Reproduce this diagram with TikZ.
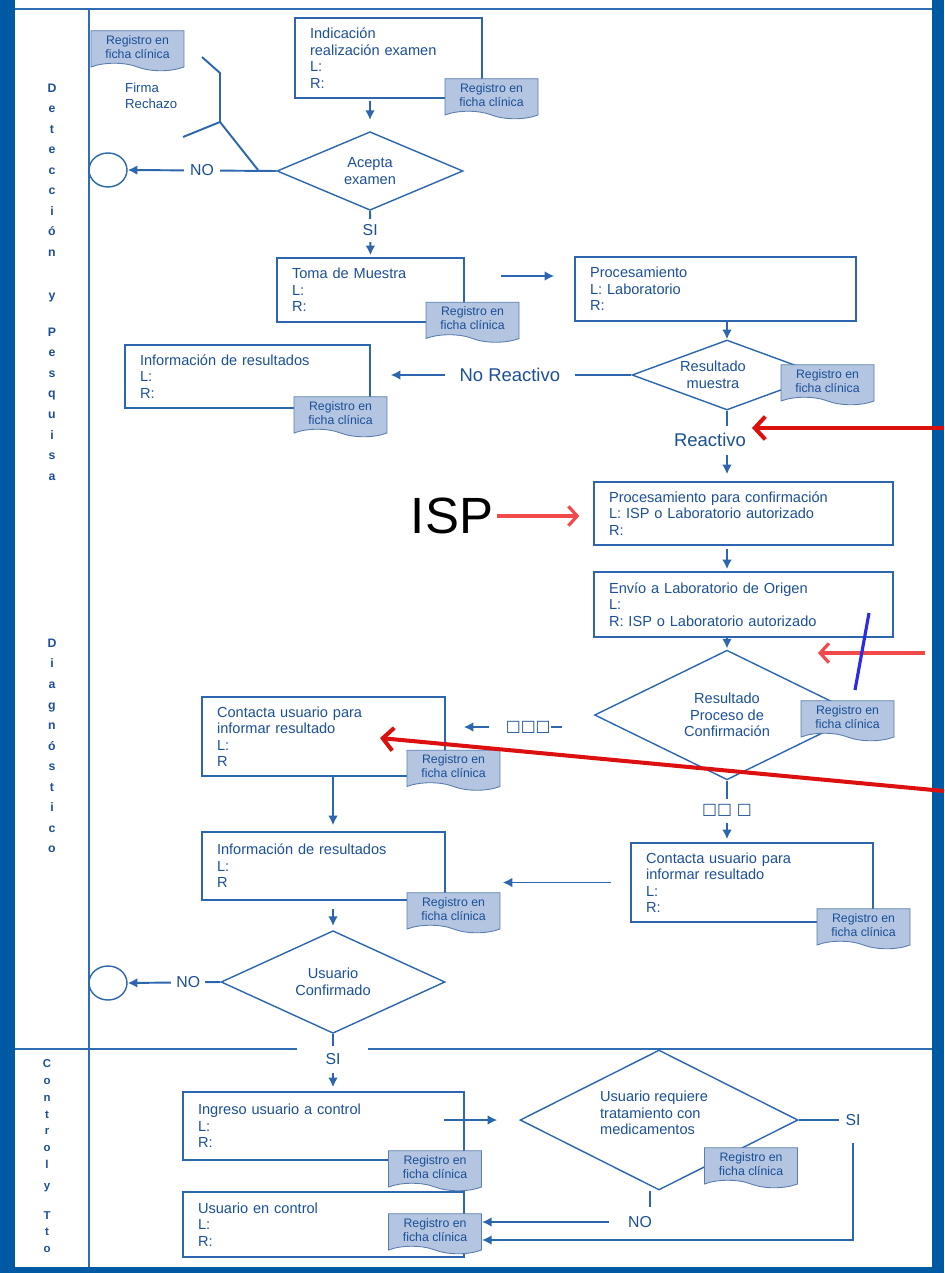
\documentclass[tikz,border=0pt]{standalone}
\usepackage{fontspec}
\setmainfont{Liberation Sans}
\newfontfamily\symfont{DejaVu Sans}
\usetikzlibrary{shapes.geometric,shapes.symbols,positioning,arrows.meta}

\definecolor{framebar}{HTML}{0059A3}
\definecolor{frameline}{HTML}{2F6DB5}
\definecolor{flowline}{HTML}{2B66AE}
\definecolor{flowtext}{HTML}{1B4F96}
\definecolor{docfill}{HTML}{B3C5E0}
\definecolor{docline}{HTML}{5A7DB0}
\definecolor{darkred}{HTML}{DD1010}
\definecolor{lightred}{HTML}{F24A4A}
\definecolor{markblue}{HTML}{2B2BE8}

\tikzset{
  box/.style={draw=flowline, line width=0.8pt, rectangle, align=left, inner xsep=0.3cm,
    text=flowtext, font=\fontsize{8.3}{9.4}\selectfont},
  decision/.style={diamond, draw=flowline, line width=0.8pt, inner sep=0pt, align=center,
    text=flowtext, font=\fontsize{8.3}{9.4}\selectfont},
  dtext/.style={text=flowtext, font=\fontsize{8.3}{9.4}\selectfont, align=center},
  record/.style={tape, tape bend top=none, tape bend bottom=out and in, tape bend height=0.15cm,
    draw=docline, fill=docfill, line width=0.5pt, minimum width=1.86cm, minimum height=0.8cm,
    inner sep=1pt, align=center, text=flowtext, font=\fontsize{7}{8}\selectfont},
  terminal/.style={ellipse, draw=flowline, line width=0.8pt, minimum width=0.76cm, minimum height=0.68cm},
  lbl/.style={text=flowtext, font=\fontsize{9}{10}\selectfont, fill=white},
  biglbl/.style={lbl, font=\fontsize{10.5}{12}\selectfont},
  boxlbl/.style={lbl, font=\symfont\fontsize{9}{10}\selectfont},
  lane/.style={text=flowtext, font=\bfseries\fontsize{7}{11.7}\selectfont, align=center},
  flow/.style={draw=flowline, line width=1.1pt},
  redarrow/.style={draw=darkred, line width=2.3pt, -{Straight Barb[length=6pt,width=13pt]}},
  pinkarrow/.style={draw=lightred, line width=1.8pt, -{Straight Barb[length=5pt,width=11pt]}},
  markline/.style={draw=markblue, line width=1.8pt}
}

\begin{document}
\begin{tikzpicture}[x=0.02cm, y=-0.02cm, >={Latex[length=5.5pt,width=5.5pt]}]
\useasboundingbox (0,0) rectangle (944,1273);

% frame and lanes
\fill[framebar] (0,0) rectangle (15,1273);
\fill[framebar] (932,0) rectangle (944,1273);
\fill[framebar] (0,1267) rectangle (944,1273);
\draw[frameline, line width=1.2pt] (15,9) -- (932,9);
\draw[frameline, line width=1.2pt] (89,9) -- (89,1267);
\draw[frameline, line width=1.2pt] (15,1049) -- (297,1049);
\draw[frameline, line width=1.2pt] (368,1049) -- (932,1049);

\node[lane] (det) at (52,170) {D\\e\\t\\e\\c\\c\\i\\ó\\n};
\node[lane] (yp) at (52,298) {y};
\node[lane] (pes) at (52,404) {P\\e\\s\\q\\u\\i\\s\\a};
\node[lane] (diag) at (52,746) {D\\i\\a\\g\\n\\ó\\s\\t\\i\\c\\o};
\node[lane, font=\bfseries\fontsize{6.5}{9.6}\selectfont] (ctrl) at (47,1114) {C\\o\\n\\t\\r\\o\\l};
\node[lane, font=\bfseries\fontsize{6.5}{9.6}\selectfont] (yt) at (47,1188) {y};
\node[lane, font=\bfseries\fontsize{6.5}{9.4}\selectfont] (tto) at (47,1232) {T\\t\\o};

% steps
\node[box, text width=3.14cm, minimum height=1.6cm] (ind) at (388.5,58) {Indicación\\realización examen\\L:\\R:};
\node[decision, minimum width=3.72cm, minimum height=1.56cm] (acepta) at (370,171) {Acepta\\examen};
\node[terminal] (fin1) at (108,170) {};
\node[dtext, anchor=west, align=left, font=\fontsize{7.5}{9}\selectfont] (firma) at (119,96) {Firma\\Rechazo};
\node[box, text width=3.14cm, minimum height=1.28cm] (toma) at (370.5,290) {Toma de Muestra\\L:\\R:};
\node[box, text width=5.02cm, minimum height=1.28cm] (proc) at (715.5,289) {Procesamiento\\L: Laboratorio\\R:};
\node[decision, minimum width=3.8cm, minimum height=1.4cm] (resmuestra) at (727,375) {};
\node[dtext] (resmuestratxt) at (713,375) {Resultado\\muestra};
\node[box, text width=4.3cm, minimum height=1.26cm] (info1) at (247.5,376.5) {Información de resultados\\L:\\R:};
\node[box, text width=5.38cm, minimum height=1.26cm] (conf) at (743.5,513.5) {Procesamiento para confirmación\\L: ISP o Laboratorio autorizado\\R:};
\node[box, text width=5.38cm, minimum height=1.3cm] (envio) at (743.5,604.5) {Envío a Laboratorio de Origen\\L:\\R: ISP o Laboratorio autorizado};
\node[decision, minimum width=5.3cm, minimum height=2.5cm] (resconf) at (727,715) {Resultado\\Proceso de\\Confirmación};
\node[box, text width=4.26cm, minimum height=1.58cm] (contacta1) at (323.5,736.5) {Contacta usuario para\\informar resultado\\L:\\R};
\node[box, text width=4.26cm, minimum height=1.36cm] (info2) at (323.5,866) {Información de resultados\\L:\\R};
\node[box, text width=4.24cm, minimum height=1.58cm] (contacta2) at (752,882.5) {Contacta usuario para\\informar resultado\\L:\\R:};
\node[decision, minimum width=4.48cm, minimum height=1.98cm] (usuconf) at (333,982) {Usuario\\Confirmado};
\node[terminal] (fin2) at (108,983) {};
\node[box, text width=5.02cm, minimum height=1.36cm] (ingreso) at (323.5,1126) {Ingreso usuario a control\\L:\\R:};
\node[decision, minimum width=5.56cm, minimum height=2.8cm] (reqtrat) at (659,1120) {};
\node[dtext, align=left] (reqtrattxt) at (654,1113) {Usuario requiere\\tratamiento con\\medicamentos};
\node[box, text width=5.02cm, minimum height=1.3cm] (control) at (323.5,1224.5) {Usuario en control\\L:\\R:};

% records
\node[record] (reg0) at (137.5,47) {Registro en\\ficha clínica};
\node[record] (reg1) at (491.5,95) {Registro en\\ficha clínica};
\node[record] (reg2) at (472.5,318.5) {Registro en\\ficha clínica};
\node[record] (reg3) at (827.5,381) {Registro en\\ficha clínica};
\node[record] (reg4) at (340.5,413) {Registro en\\ficha clínica};
\node[record] (reg5) at (847.5,717) {Registro en\\ficha clínica};
\node[record] (reg6) at (453.5,766.5) {Registro en\\ficha clínica};
\node[record] (reg7) at (453.5,909) {Registro en\\ficha clínica};
\node[record] (reg8) at (863.5,925) {Registro en\\ficha clínica};
\node[record] (reg9) at (435,1167) {Registro en\\ficha clínica};
\node[record] (reg10) at (751,1164) {Registro en\\ficha clínica};
\node[record] (reg11) at (435,1230) {Registro en\\ficha clínica};

% connectors
\draw[flow,->,shorten <=0.04cm,shorten >=0.22cm] (acepta.north |- ind.south) -- (acepta.north);
\coordinate (fork) at (220,122);
\draw[flow] (202,57) -- (220,73) -- (fork) -- (183,137);
\draw[flow] (fork) -- (258,170);
\draw[flow,->] (acepta.west) -- node[lbl, inner xsep=0.13cm] {NO} (fin1.east);
\draw[flow,->,shorten >=0.04cm] (acepta.south) -- node[lbl, pos=0.42] {SI} (toma.north);
\draw[flow,->,shorten <=0.72cm,shorten >=0.4cm] ([yshift=0.28cm]toma.east) -- ([yshift=0.28cm]toma.east -| proc.west);
\draw[flow,->] (resmuestra.north |- proc.south) -- (resmuestra.north);
\draw[flow,->,shorten >=0.4cm] (resmuestra.west) -- node[biglbl, pos=0.466, inner xsep=0.3cm] {No Reactivo} (resmuestra.west -| info1.east);
\draw[flow,->,shorten >=0.14cm] (resmuestra.south) -- node[biglbl, pos=0.42, xshift=-0.34cm, inner ysep=0.16cm] {Reactivo} (resmuestra.south |- conf.north);
\draw[flow,->,shorten <=0.06cm,shorten >=0.04cm] (resconf.north |- conf.south) -- (resconf.north |- envio.north);
\draw[flow,->,shorten >=0.02cm] (resconf.north |- envio.south) -- (resconf.north);

\coordinate (noconf) at (562,727);
\node[boxlbl, anchor=east, inner sep=0pt] (noconftxt) at (551,727) {□□□};
\draw[flow] (noconftxt.east) -- (noconf);
\draw[flow,->,shorten <=0.32cm,shorten >=0.36cm] (noconftxt.west) -- (noconftxt.west -| contacta1.east);
\draw[flow,->,shorten >=0.06cm] (resconf.south) -- node[boxlbl, pos=0.49, inner ysep=0.12cm] {□□ □} (resconf.south |- contacta2.north);
\draw[flow,->,shorten <=0.38cm,shorten >=1.14cm] (contacta2.west) -- (contacta2.west -| info2.east);
\draw[flow,->,shorten >=0.12cm] (usuconf.north |- contacta1.south) -- (usuconf.north |- info2.north);
\draw[flow,->,shorten <=0.16cm,shorten >=0.08cm] (usuconf.north |- info2.south) -- (usuconf.north);
\draw[flow,->] (usuconf.west) -- node[lbl, pos=0.346, inner xsep=0.1cm] {NO} (fin2.east);
\draw[flow,->,shorten >=0.08cm] (usuconf.south) -- node[lbl, pos=0.44, inner ysep=0.16cm] {SI} (usuconf.south |- ingreso.north);

\draw[flow,->,shorten >=0.44cm] ([xshift=-0.42cm]reqtrat.west -| ingreso.east) -- (reqtrat.west);
\node[lbl, fill=none] (si3) at (853,1120) {SI};
\draw[flow] (reqtrat.east) -- (si3.west);
\draw[flow,->,shorten <=0.22cm] (si3.south) |- ([yshift=-0.2cm]reg11.east);
\node[lbl, fill=none] (no3) at (640,1222) {NO};
\draw[flow] ([xshift=-0.18cm]reqtrat.south) -- ++(0,16);
\draw[flow,->,shorten <=0.26cm] (no3.west) -- (no3 -| reg11.east);

% annotations
\node[font=\fontsize{29}{30}\selectfont, inner sep=1pt] (isp) at (452,516) {ISP};
\draw[pinkarrow, shorten <=0.04cm, shorten >=0.28cm] (isp.east) -- (isp.east -| conf.west);
\coordinate (r1a) at (944,428);
\coordinate (r1b) at (752,428);
\draw[redarrow] (r1a) -- (r1b);
\coordinate (r2a) at (925,653);
\coordinate (r2b) at (818,653);
\draw[pinkarrow] (r2a) -- (r2b);
\coordinate (m1) at (869,613);
\coordinate (m2) at (855,690);
\draw[markline] (m1) -- (m2);
\coordinate (r3a) at (944,791);
\coordinate (r3b) at (380,738);
\draw[redarrow] (r3a) -- (r3b);
\end{tikzpicture}
\end{document}
